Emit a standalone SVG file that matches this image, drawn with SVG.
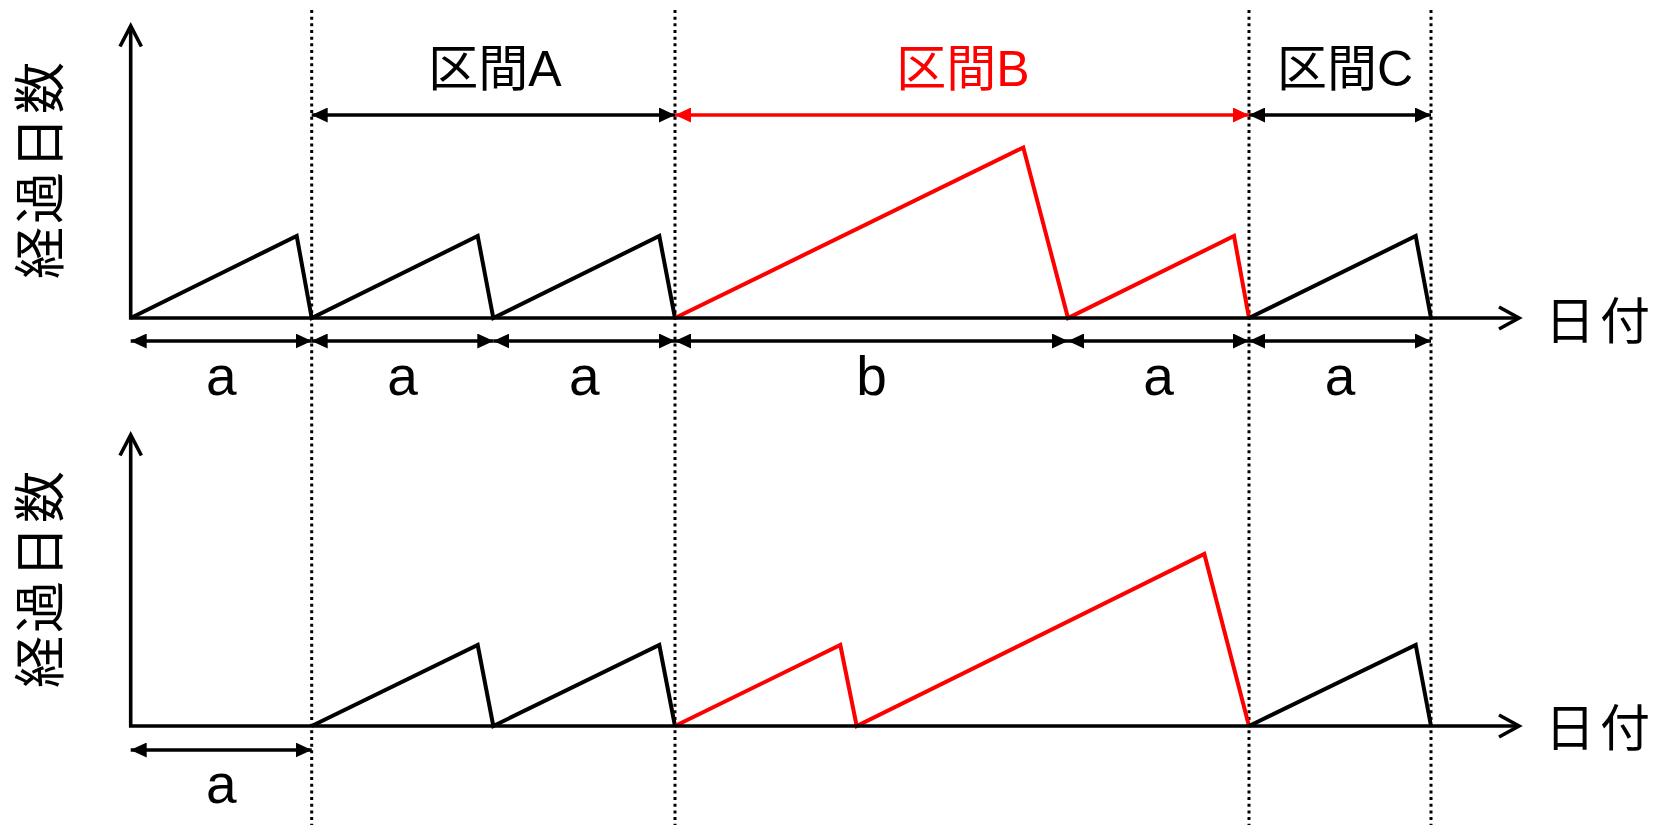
<svg xmlns="http://www.w3.org/2000/svg" width="1661" height="825" viewBox="0 0 1661 825">
  <style>
    .axis { fill: none; stroke: #000; stroke-width: 3.6; stroke-linejoin: miter; }
    .saw { fill: none; stroke: #000; stroke-width: 4; stroke-linejoin: miter; }
    .saw.red { stroke: #ff0000; }
    .dot { fill: none; stroke: #000; stroke-width: 3; stroke-dasharray: 3 3.67; }
    .dim { fill: none; stroke: #000; stroke-width: 3.5; marker-start: url(#ah); marker-end: url(#ah); }
    .dim.red { stroke: #ff0000; marker-start: url(#ahr); marker-end: url(#ahr); }
    .lbl { font-family: "Liberation Sans", "Noto Sans CJK JP", sans-serif; fill: #000; }
    .big { font-size: 50px; }
    .dimtxt { font-size: 55px; text-anchor: middle; }
    .ttl { font-size: 50px; text-anchor: middle; }
    .redtxt { fill: #ff0000; }
  </style>
  <defs>
    <marker id="ah" viewBox="0 0 16 15" refX="16" refY="7.5" markerWidth="16" markerHeight="15" markerUnits="userSpaceOnUse" orient="auto-start-reverse">
      <path d="M0,0 L16,7.5 L0,15 Z" fill="#000"/>
    </marker>
    <marker id="ahr" viewBox="0 0 16 15" refX="16" refY="7.5" markerWidth="16" markerHeight="15" markerUnits="userSpaceOnUse" orient="auto-start-reverse">
      <path d="M0,0 L16,7.5 L0,15 Z" fill="#ff0000"/>
    </marker>
  </defs>
  <rect width="1661" height="825" fill="#fff"/>

  <g id="dividers">
    <line class="dot" x1="311.7" y1="10" x2="311.7" y2="825"/>
    <line class="dot" x1="675" y1="10" x2="675" y2="825"/>
    <line class="dot" x1="1249" y1="10" x2="1249" y2="825"/>
    <line class="dot" x1="1431" y1="10" x2="1431" y2="825"/>
  </g>

  <g id="chart-top">
    <polyline class="saw" points="130.7,318 296.7,236 311.7,318 477.7,236 493.3,318 659.3,236 675,318"/>
    <polyline class="saw red" points="675,318 1023.3,147.5 1068,318 1234,236 1249,318"/>
    <polyline class="saw" points="1249,318 1415.7,236 1431,318"/>
    <polyline class="axis" points="130.7,26 130.7,318 1519,318"/>
    <polyline class="axis" points="120,46.5 130.7,26 141.4,46.5"/>
    <polyline class="axis" points="1499,307 1519,318 1499,329"/>
  </g>

  <g id="chart-bottom">
    <polyline class="saw" points="311.7,726 477.7,645 493.3,726 659.3,645 675,726"/>
    <polyline class="saw red" points="675,726 840.3,645 856.7,726 1204.3,554 1249,726"/>
    <polyline class="saw" points="1249,726 1415.7,645 1431,726"/>
    <polyline class="axis" points="130.7,435 130.7,726 1519,726"/>
    <polyline class="axis" points="120,455.5 130.7,435 141.4,455.5"/>
    <polyline class="axis" points="1499,715 1519,726 1499,737"/>
  </g>

  <g id="connectors">
    <line class="dim" x1="311.7" y1="115" x2="675" y2="115"/>
    <line class="dim red" x1="675" y1="115" x2="1249" y2="115"/>
    <line class="dim" x1="1249" y1="115" x2="1431" y2="115"/>
    <line class="dim" x1="130.7" y1="341" x2="311.7" y2="341"/>
    <line class="dim" x1="311.7" y1="341" x2="493.3" y2="341"/>
    <line class="dim" x1="493.3" y1="341" x2="675" y2="341"/>
    <line class="dim" x1="675" y1="341" x2="1068" y2="341"/>
    <line class="dim" x1="1068" y1="341" x2="1249" y2="341"/>
    <line class="dim" x1="1249" y1="341" x2="1431" y2="341"/>
    <line class="dim" x1="130.7" y1="750" x2="311.7" y2="750"/>
  </g>

  <g id="labels-top">
    <text class="lbl ttl" x="495" y="86">区間A</text>
    <text class="lbl ttl redtxt" x="963" y="86">区間B</text>
    <text class="lbl ttl" x="1345" y="86">区間C</text>
    <text class="lbl dimtxt" x="221.2" y="395">a</text>
    <text class="lbl dimtxt" x="402.5" y="395">a</text>
    <text class="lbl dimtxt" x="584.2" y="395">a</text>
    <text class="lbl dimtxt" x="871.5" y="395">b</text>
    <text class="lbl dimtxt" x="1158.5" y="395">a</text>
    <text class="lbl dimtxt" x="1340" y="395">a</text>
    <text class="lbl big" x="1545" y="339" letter-spacing="5">日付</text>
    <text class="lbl" font-size="52" text-anchor="middle" letter-spacing="3" transform="translate(58.5,169) rotate(-90)">経過日数</text>
  </g>

  <g id="labels-bottom">
    <text class="lbl dimtxt" x="221.2" y="803">a</text>
    <text class="lbl big" x="1545" y="746" letter-spacing="5">日付</text>
    <text class="lbl" font-size="52" text-anchor="middle" letter-spacing="3" transform="translate(58.5,578) rotate(-90)">経過日数</text>
  </g>
</svg>
